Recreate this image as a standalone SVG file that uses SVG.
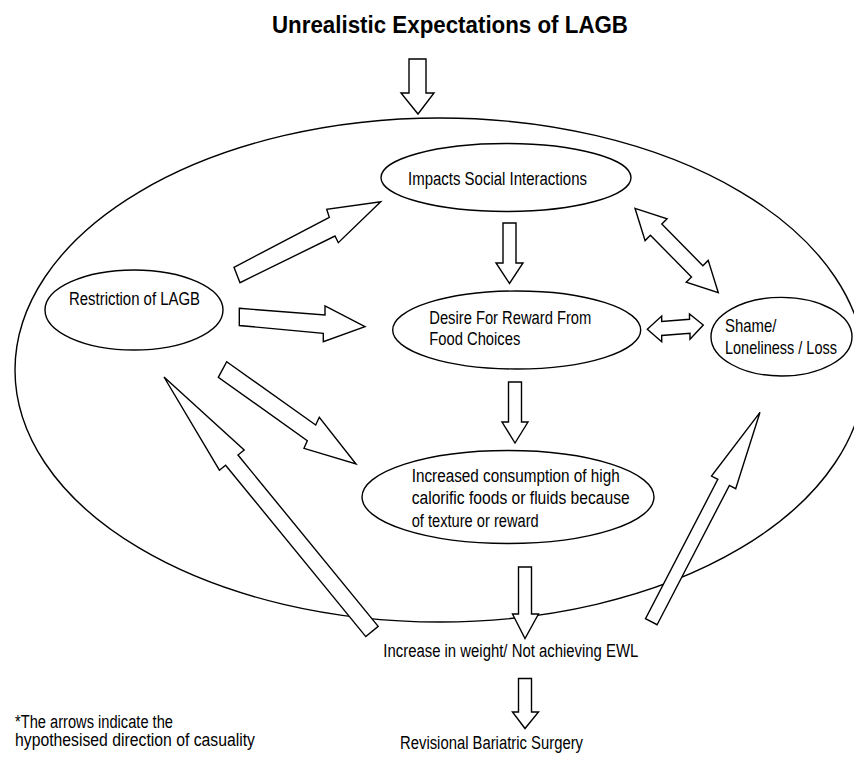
<svg xmlns="http://www.w3.org/2000/svg" width="854" height="761" viewBox="0 0 854 761">
  <style>
    .shape { fill: #fff; stroke: #000; stroke-width: 1.4; stroke-linejoin: miter; }
    .frame { fill: none; stroke: #000; stroke-width: 1.4; }
    .label { font-family: "Liberation Sans", Arial, sans-serif; font-size: 18px; fill: #000; }
    .title { font-family: "Liberation Sans", Arial, sans-serif; font-size: 23px; font-weight: bold; fill: #000; }
  </style>
  <rect width="854" height="761" fill="#fff"/>

  <!-- heading -->
  <g id="title">
    <text class="title" x="272" y="32.5" textLength="356" lengthAdjust="spacingAndGlyphs">Unrealistic Expectations of LAGB</text>
  </g>

  <!-- enclosing cycle -->
  <g id="cycle">
    <ellipse class="frame" cx="440" cy="370" rx="425" ry="252"/>
  </g>

  <g id="impacts">
    <ellipse class="shape" cx="506" cy="177.5" rx="125" ry="34"/>
    <text class="label" x="408" y="185" textLength="179" lengthAdjust="spacingAndGlyphs">Impacts Social Interactions</text>
  </g>

  <g id="restriction">
    <ellipse class="shape" cx="134" cy="310" rx="89" ry="40"/>
    <text class="label" x="69" y="305" textLength="131" lengthAdjust="spacingAndGlyphs">Restriction of LAGB</text>
  </g>

  <g id="desire">
    <ellipse class="shape" cx="516.7" cy="330" rx="124" ry="39"/>
    <text class="label" x="429.3" y="324" textLength="162" lengthAdjust="spacingAndGlyphs">Desire For Reward From</text>
    <text class="label" x="429.3" y="345" textLength="91" lengthAdjust="spacingAndGlyphs">Food Choices</text>
  </g>

  <g id="shame">
    <ellipse class="shape" cx="781.5" cy="336.7" rx="70.5" ry="39.3"/>
    <!-- narrowed lines, scaled horizontally to sit inside the small ellipse -->
    <text class="label" transform="translate(725 331.7) scale(0.83 1)">Shame/</text>
    <text class="label" transform="translate(725 354.3) scale(0.806 1)">Loneliness / Loss</text>
  </g>

  <g id="consumption">
    <ellipse class="shape" cx="508" cy="497" rx="146" ry="46.5"/>
    <text class="label" x="411.7" y="481.7" textLength="208" lengthAdjust="spacingAndGlyphs">Increased consumption of high</text>
    <text class="label" x="411.7" y="504" textLength="218" lengthAdjust="spacingAndGlyphs">calorific foods or fluids because</text>
    <text class="label" x="411.7" y="526.7" textLength="127" lengthAdjust="spacingAndGlyphs">of texture or reward</text>
  </g>

  <!-- block arrows (white filled, drawn over the cycle outline) -->
  <g id="connectors">
    <polygon class="shape" points="409,59 426,59 426,93 434,93 418,114 401,93 409,93"/>
    <polygon class="shape" points="503,223 516,223 516,263 523,263 509.5,283.5 496,263 503,263"/>
    <polygon class="shape" points="508.5,382 521.5,382 521.5,422 528,422 515,443 502,422 508.5,422"/>
    <polygon class="shape" points="518.5,567 531.5,567 531.5,614 538.5,614 525,638.5 512.5,614 518.5,614"/>
    <polygon class="shape" points="518.5,678.5 531.5,678.5 531.5,712 538.5,712 525,728.5 512.5,712 518.5,712"/>
    <!-- restriction outputs -->
    <polygon class="shape" points="234,267.3 329.3,217.3 326.7,209.3 380.7,201.7 338.3,242.7 335,236 240,282.7"/>
    <polygon class="shape" points="239.3,308.3 325,315 325,306 365,326.7 323.3,341.7 323.3,333.3 239.3,325.5"/>
    <polygon class="shape" points="226.7,361.7 315.7,425 319.3,417.3 356,464 304,448.3 307.3,440.7 218.3,377.3"/>
    <!-- feedback from weight outcome -->
    <polygon class="shape" points="378.2,626.4 238,455 244.2,450 164,377 219.4,470.2 225.6,465.2 365.8,636.6"/>
    <polygon class="shape" points="657.1,624.7 729.4,485.4 735.7,488.7 760,412.3 711.5,476.1 717.8,479.4 645.5,618.7"/>
    <!-- two-way links -->
    <polygon class="shape" points="635,208.3 667.1,218.8 661.8,224.1 702.9,265.7 708.2,260.4 718.3,292.7 686.2,282.2 691.5,276.9 650.4,235.3 645.1,240.6"/>
    <polygon class="shape" points="647.3,329.3 661.7,316 661.7,321.5 689.5,319.3 689.5,314 703.3,325 690,339.3 690,333.3 661.7,335.5 661.7,341.7"/>
  </g>

  <g id="weight">
    <text class="label" x="383.3" y="657.3" textLength="255" lengthAdjust="spacingAndGlyphs">Increase in weight/ Not achieving EWL</text>
  </g>

  <g id="revision">
    <text class="label" x="400" y="749" textLength="183" lengthAdjust="spacingAndGlyphs">Revisional Bariatric Surgery</text>
  </g>

  <g id="note">
    <text class="label" x="15" y="727.5" textLength="158" lengthAdjust="spacingAndGlyphs">*The arrows indicate the</text>
    <text class="label" x="15" y="746" textLength="240" lengthAdjust="spacingAndGlyphs">hypothesised direction of casuality</text>
  </g>
</svg>
